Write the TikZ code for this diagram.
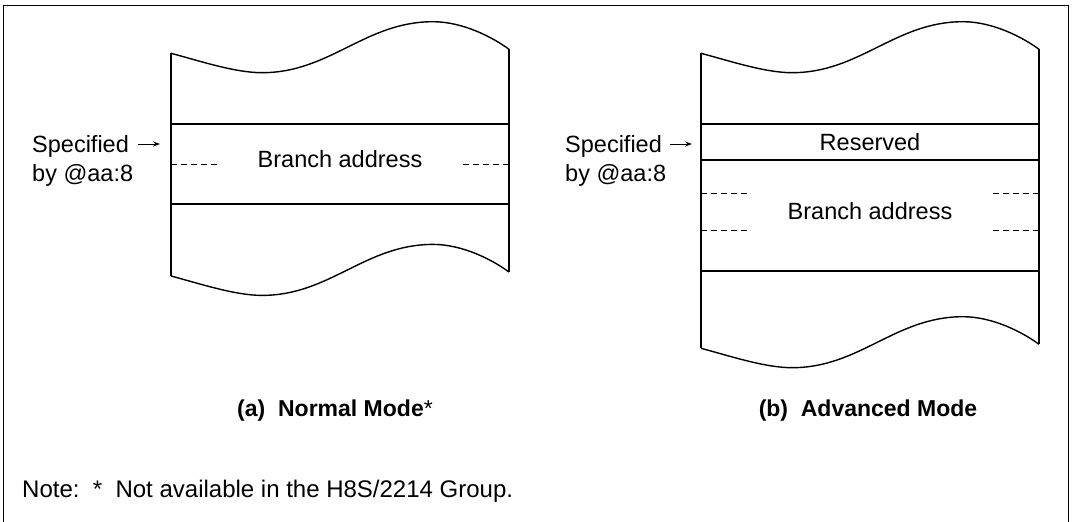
\documentclass[tikz,border=0pt]{standalone}
\usepackage{fontspec}
\setmainfont{Liberation Sans}
\usetikzlibrary{arrows.meta}
\tikzset{
  frameline/.style={line width=1.8pt},
  boxline/.style={line width=1.4pt, line join=round},
  dashline/.style={line width=0.8pt, dash pattern=on 5.5pt off 4.5pt},
  lbl/.style={inner sep=0pt, font=\fontsize{23.5}{29}\selectfont},
  captext/.style={inner sep=0pt, font=\bfseries\fontsize{23}{28}\selectfont},
  notetext/.style={inner sep=0pt, font=\fontsize{24}{28}\selectfont},
  ptr/.style={line width=1pt, -{Stealth[length=7pt,width=5pt]}}
}
\begin{document}
\begin{tikzpicture}[x=1pt,y=-1pt]
\useasboundingbox (0,0) rectangle (1072,522);
% outer frame (open at the bottom)
\draw[frameline] (3.5,522) -- (3.5,5.5) -- (1068.5,5.5) -- (1068.5,522);

% wavy edges
\foreach \dx/\dy in {0/0, 0/222.7, 530/0, 530/295}{
  \draw[boxline, shift={(\dx,\dy)}] (171,53.3) .. controls (200,61) and (235,72.7) .. (262,72.7)
      .. controls (330,72.7) and (365,21.7) .. (433,21.7)
      .. controls (463,21.7) and (493,37.5) .. (509,49.3);
}
% ---------- (a) Normal mode ----------
\draw[boxline] (171,53.3) -- (171,276);
\draw[boxline] (509,49.3) -- (509,272);
\draw[boxline] (171,124) -- (509,124);
\draw[boxline] (171,204) -- (509,204);
\draw[dashline] (171,164) -- (217,164);
\draw[dashline] (463,164) -- (509,164);
\node[lbl, anchor=base] (brA) at (340,167.5) {Branch address};
\node[lbl, anchor=base west, align=left] (specA) at (32,181.7) {Specified\\by @aa:8};
\coordinate (pA1) at (138,144);
\coordinate (pA2) at (160,144);
\draw[ptr] (pA1) -- (pA2);
\node[captext] (capA) at (335,411) {(a)\ \ Normal Mode{\mdseries *}};

% ---------- (b) Advanced mode ----------
\draw[boxline] (701,53.3) -- (701,348.3);
\draw[boxline] (1039,49.3) -- (1039,344.3);
\draw[boxline] (701,124) -- (1039,124);
\draw[boxline] (701,160) -- (1039,160);
\draw[boxline] (701,271) -- (1039,271);
\draw[dashline] (701,193) -- (747,193);
\draw[dashline] (993,193) -- (1039,193);
\draw[dashline] (701,230) -- (747,230);
\draw[dashline] (993,230) -- (1039,230);
\node[lbl, anchor=base] (resB) at (870,150.5) {Reserved};
\node[lbl, anchor=base] (brB) at (870,219) {Branch address};
\node[lbl, anchor=base west, align=left] (specB) at (565,181.7) {Specified\\by @aa:8};
\coordinate (pB1) at (670,144);
\coordinate (pB2) at (692,144);
\draw[ptr] (pB1) -- (pB2);
\node[captext] (capB) at (868,411) {(b)\ \ Advanced Mode};

% note
\node[notetext, anchor=west] (noteT) at (22,491) {Note:\ \ *\ \ Not available in the H8S/2214 Group.};
\end{tikzpicture}
\end{document}
